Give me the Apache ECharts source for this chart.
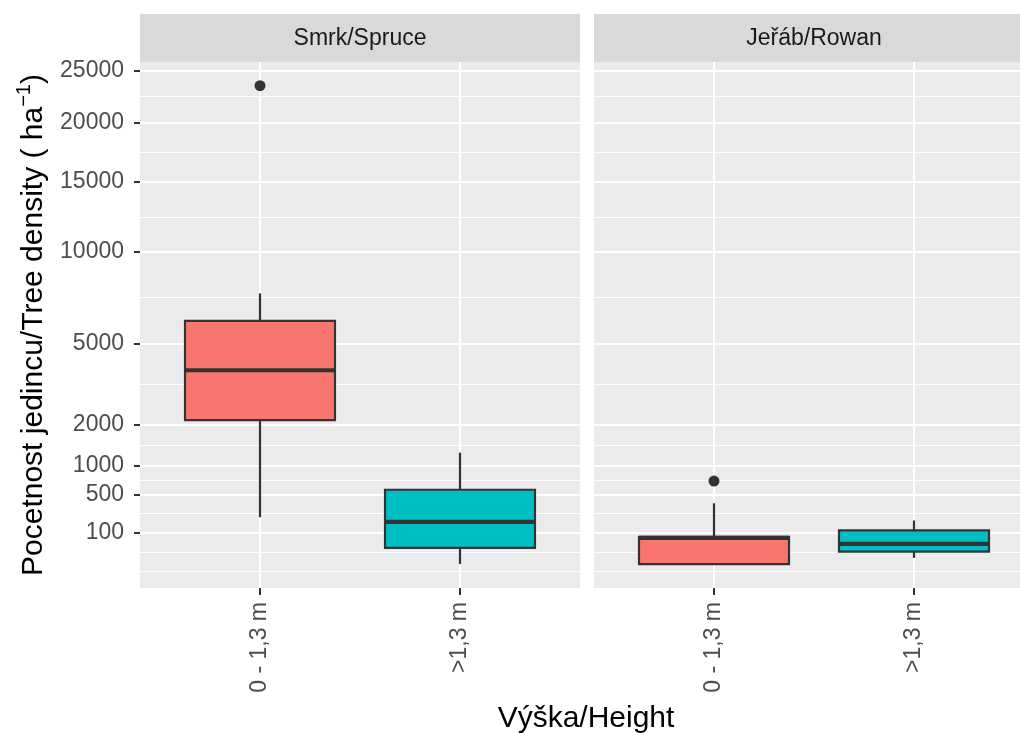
<!DOCTYPE html>
<html>
<head>
<meta charset="utf-8">
<script src="https://cdn.jsdelivr.net/npm/echarts@6/dist/echarts.min.js"></script>
<style>
html,body{margin:0;padding:0;background:#fff;}
#chart{width:1020px;height:733px;}
</style>
</head>
<body>
<div id="chart"></div>
<script>
// ---- data ----
const categories = ['0 - 1,3 m', '>1,3 m'];
const species = ['Smrk/Spruce', 'Jeřáb/Rowan'];
// [min, Q1, median, Q3, max] in trees per ha
const spruceBox = [[225, 2128, 3854, 6068, 7515], [0, 27, 183, 567, 1273]];
const rowanBox = [[0, 0, 70, 76, 380], [4, 16, 42, 116, 195]];
// outliers: [category index (1-based), value]
const spruceOut = [[1, 23470]];
const rowanOut = [[1, 706]];
const yTicks = [100, 500, 1000, 2000, 5000, 10000, 15000, 20000, 25000];
const fills = ['#F8766D', '#00BFC4'];

// ---- sqrt transform helpers ----
const tr = v => Math.sqrt(v);
const majorS = yTicks.map(tr);
const bd = majorS[1] - majorS[0];
const ext = [majorS[0] - bd].concat(majorS, [majorS[majorS.length - 1] + bd]);
const minorS = [];
for (let i = 0; i < ext.length - 1; i++) minorS.push((ext[i] + ext[i + 1]) / 2);
minorS.unshift(ext[0]);

const Y_MIN = -7.66, Y_MAX = 160.8;
const FONT = '"Liberation Sans", Arial, sans-serif';

function boxData(arr) {
  return arr.map((b, i) => [i + 1].concat(b.map(tr)));
}
function outData(arr) {
  return arr.map(o => [o[0], tr(o[1])]);
}

function renderBox(params, api) {
  const x = api.value(0);
  const lo = api.coord([x, api.value(1)]);
  const q1 = api.coord([x, api.value(2)]);
  const md = api.coord([x, api.value(3)]);
  const q3 = api.coord([x, api.value(4)]);
  const hi = api.coord([x, api.value(5)]);
  const hw = api.size([0.75, 0])[0] / 2;
  const cx = q1[0];
  const fill = fills[x - 1];
  return {
    type: 'group',
    children: [
      {type: 'line', shape: {x1: cx, y1: lo[1], x2: cx, y2: q1[1]}, style: {stroke: '#333333', lineWidth: 2.2}},
      {type: 'line', shape: {x1: cx, y1: q3[1], x2: cx, y2: hi[1]}, style: {stroke: '#333333', lineWidth: 2.2}},
      {type: 'rect', shape: {x: cx - hw, y: q3[1], width: 2 * hw, height: q1[1] - q3[1]}, style: {fill: fill, stroke: '#333333', lineWidth: 2.2}},
      {type: 'line', shape: {x1: cx - hw, y1: md[1], x2: cx + hw, y2: md[1]}, style: {stroke: '#333333', lineWidth: 4.2}}
    ]
  };
}

const grids = [
  {left: 140, top: 62, width: 440, height: 526, show: true, backgroundColor: '#ebebeb', borderWidth: 0, outerBoundsMode: 'none', containLabel: false},
  {left: 594, top: 62, width: 440, height: 526, show: true, backgroundColor: '#ebebeb', borderWidth: 0, outerBoundsMode: 'none', containLabel: false}
];

function xAxisFor(gi) {
  return {
    type: 'value', gridIndex: gi, min: 0.4, max: 2.6, position: 'bottom',
    axisLine: {show: false, onZero: false},
    axisTick: {show: true, length: 7, lineStyle: {color: '#333333', width: 2}, customValues: [1, 2]},
    axisLabel: {show: true, rotate: 90, margin: 14, fontSize: 23, color: '#4d4d4d', fontFamily: FONT,
      customValues: [1, 2], formatter: v => categories[Math.round(v) - 1]},
    splitLine: {show: true, lineStyle: {color: '#ffffff', width: 2}}
  };
}

function yMajor(gi, withLabels) {
  return {
    type: 'value', gridIndex: gi, min: Y_MIN, max: Y_MAX, z: 3, position: 'left',
    axisLine: {show: false, onZero: false},
    axisTick: {show: withLabels, length: 6, lineStyle: {color: '#333333', width: 2}, customValues: majorS},
    axisLabel: {show: withLabels, margin: 16, fontSize: 23, color: '#4d4d4d', fontFamily: FONT,
      customValues: majorS, formatter: v => String(Math.round(v * v))},
    splitLine: {show: true, lineStyle: {color: '#ffffff', width: 2}},
    name: withLabels ? '{a|Pocetnost jedincu/Tree density ( ha}{s|−1}{a|)}' : '',
    nameLocation: 'middle',
    nameGap: 86,
    nameTextStyle: {
      fontFamily: FONT, color: '#000000',
      rich: {
        a: {fontSize: 30, fontFamily: FONT, color: '#000000'},
        s: {fontSize: 20, fontFamily: FONT, color: '#000000', padding: [0, 0, 20, 0]}
      }
    }
  };
}
function yMinor(gi) {
  return {
    type: 'value', gridIndex: gi, min: Y_MIN, max: Y_MAX, position: 'left', z: 1,
    axisLine: {show: false, onZero: false},
    axisTick: {show: false, customValues: minorS},
    axisLabel: {show: false, customValues: minorS},
    splitLine: {show: true, lineStyle: {color: '#ffffff', width: 1.2}}
  };
}

const option = {
  backgroundColor: '#ffffff',
  animation: false,
  textStyle: {fontFamily: FONT},
  grid: grids,
  xAxis: [xAxisFor(0), xAxisFor(1)],
  yAxis: [yMajor(0, true), yMajor(1, false), yMinor(0), yMinor(1)],
  series: [
    {type: 'custom', xAxisIndex: 0, yAxisIndex: 0, renderItem: renderBox, encode: {x: 0, y: [1, 2, 3, 4, 5]}, data: boxData(spruceBox), z: 5},
    {type: 'custom', xAxisIndex: 1, yAxisIndex: 1, renderItem: renderBox, encode: {x: 0, y: [1, 2, 3, 4, 5]}, data: boxData(rowanBox), z: 5},
    {type: 'scatter', xAxisIndex: 0, yAxisIndex: 0, data: outData(spruceOut), symbol: 'circle', symbolSize: 11, itemStyle: {color: '#333333', opacity: 1}, z: 6},
    {type: 'scatter', xAxisIndex: 1, yAxisIndex: 1, data: outData(rowanOut), symbol: 'circle', symbolSize: 11, itemStyle: {color: '#333333', opacity: 1}, z: 6}
  ],
  graphic: [
    {type: 'rect', left: 140, top: 14, shape: {width: 440, height: 48}, style: {fill: '#d9d9d9'}, z: 0},
    {type: 'rect', left: 594, top: 14, shape: {width: 440, height: 48}, style: {fill: '#d9d9d9'}, z: 0},
    {type: 'text', x: 360, y: 39, style: {text: species[0], font: '23px ' + FONT, fill: '#1a1a1a', textAlign: 'center', textVerticalAlign: 'middle'}, z: 1},
    {type: 'text', x: 814, y: 39, style: {text: species[1], font: '23px ' + FONT, fill: '#1a1a1a', textAlign: 'center', textVerticalAlign: 'middle'}, z: 1},
    {type: 'text', x: 586, y: 719, style: {text: 'Výška/Height', font: '30px ' + FONT, fill: '#000000', textAlign: 'center', textVerticalAlign: 'middle'}, z: 1}
  ]
};

const chart = echarts.init(document.getElementById('chart'), null, {renderer: 'canvas'});
chart.setOption(option);
</script>
</body>
</html>
